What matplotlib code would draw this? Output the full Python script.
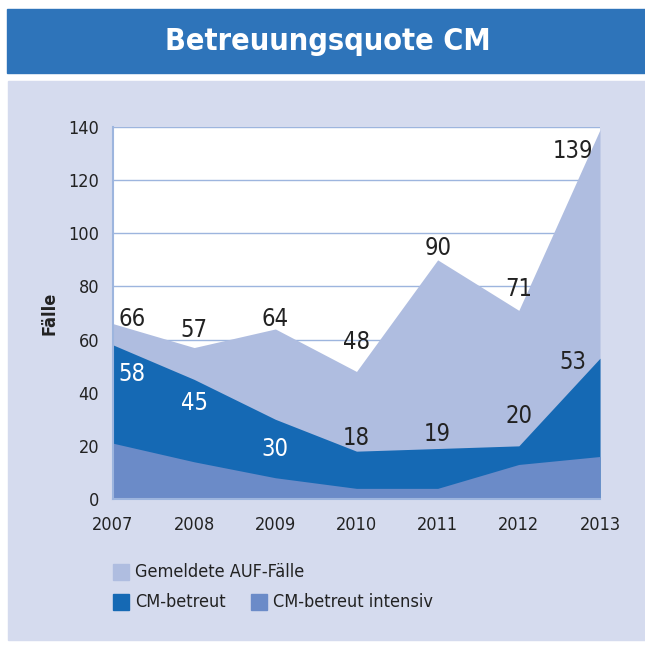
import matplotlib
matplotlib.use("Agg")
import matplotlib.pyplot as plt
from matplotlib.patches import Rectangle

plt.rcParams["font.family"] = ["DejaVu Sans"]
plt.rcParams["font.stretch"] = "condensed"

years = [2007, 2008, 2009, 2010, 2011, 2012, 2013]
gemeldet = [66, 57, 64, 48, 90, 71, 139]
betreut = [58, 45, 30, 18, 19, 20, 53]
intensiv = [21, 14, 8, 4, 4, 13, 16]

C_BAR = "#2E74BA"
C_PANEL = "#D5DBEE"
C_LIGHT = "#AFBDE0"
C_DARK = "#1569B4"
C_MID = "#6B8BC8"
C_GRID = "#9DB5DE"
C_TEXT = "#222222"

fig = plt.figure(figsize=(6.45, 6.45), dpi=100)
W = H = 645.0

# title bar and panel background
fig.patches.append(Rectangle((7 / W, 1 - 73 / H), 1, 64 / H, transform=fig.transFigure,
                             color=C_BAR, zorder=-2))
fig.patches.append(Rectangle((8 / W, 1 - 640 / H), 1, 559 / H, transform=fig.transFigure,
                             color=C_PANEL, zorder=-2))
fig.text(328 / W, 1 - 42 / H, "Betreuungsquote CM", color="white", fontsize=22,
         fontweight="bold", ha="center", va="center")

ax = fig.add_axes([113 / W, 1 - 499 / H, 487 / W, 372 / H])
ax.set_zorder(2)
ax.set_facecolor("white")
ax.fill_between(years, 0, gemeldet, color=C_LIGHT, lw=0, zorder=2)
ax.fill_between(years, 0, betreut, color=C_DARK, lw=0, zorder=3)
ax.fill_between(years, 0, intensiv, color=C_MID, lw=0, zorder=4)

ax.set_xlim(2007, 2013)
ax.set_ylim(0, 140)
ax.set_yticks(range(0, 141, 20))
ax.set_xticks(years)
ax.grid(axis="y", color=C_GRID, lw=1, zorder=1)
ax.set_axisbelow(True)
for s in ["top", "right"]:
    ax.spines[s].set_visible(False)
for s in ["left", "bottom"]:
    ax.spines[s].set_color(C_GRID)
    ax.spines[s].set_linewidth(1.5)
    ax.spines[s].set_zorder(6)
ax.tick_params(length=0, labelsize=13, colors=C_TEXT, pad=10)
ax.tick_params(axis="x", pad=12)
ax.set_ylabel("Fälle", fontsize=13, fontweight="bold", color=C_TEXT, labelpad=7)

# value labels: offsets of label centre from the data point, in pixels
g_off = [(19, 7), (0, 20), (0, 12), (0, 32), (0, 14), (0, 24), (-27, -19)]
for x, v, (dx, dy) in zip(years, gemeldet, g_off):
    ax.annotate(str(v), (x, v), xytext=(dx, dy), textcoords="offset pixels",
                ha="center", va="center_baseline", fontsize=17,
                color=C_TEXT, zorder=7, annotation_clip=False)
b_off = [(19, -27), (0, -21), (0, -27), (0, 16), (0, 17), (0, 32), (-27, -1)]
b_col = ["white", "white", "white", C_TEXT, C_TEXT, C_TEXT, C_TEXT]
for x, v, (dx, dy), c in zip(years, betreut, b_off, b_col):
    ax.annotate(str(v), (x, v), xytext=(dx, dy), textcoords="offset pixels",
                ha="center", va="center_baseline", fontsize=17,
                color=c, zorder=7, annotation_clip=False)

# legend
leg = [("Gemeldete AUF-Fälle", C_LIGHT, 113, 572),
       ("CM-betreut", C_DARK, 113, 602),
       ("CM-betreut intensiv", C_MID, 251, 602)]
for label, col, lx, ly in leg:
    fig.patches.append(Rectangle((lx / W, 1 - (ly + 8) / H), 16 / W, 16 / H,
                                 transform=fig.transFigure, color=col, zorder=1))
    fig.text((lx + 22) / W, 1 - ly / H, label, fontsize=13, color=C_TEXT,
             ha="left", va="center")

fig.savefig("out.png", dpi=100)
